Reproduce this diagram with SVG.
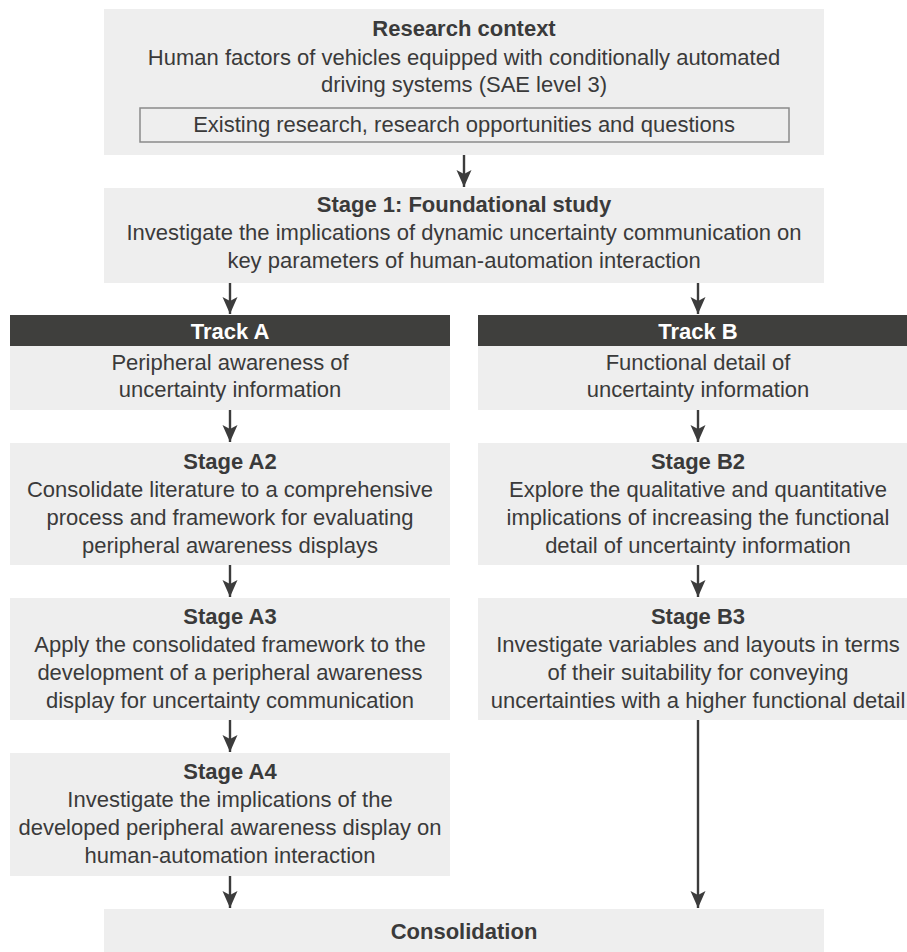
<svg xmlns="http://www.w3.org/2000/svg" width="907" height="952" viewBox="0 0 907 952">
  <style>
    .box { fill: #eeeeee; }
    .head { fill: #3f3f3d; }
    .inner { fill: #eeeeee; stroke: #8a8a8a; stroke-width: 1.5; }
    text { font-family: "Liberation Sans", Arial, sans-serif; font-size: 22px; fill: #3a3a3a; text-anchor: middle; }
    .t { font-weight: bold; }
    .w { font-weight: bold; fill: #ffffff; }
    .link { stroke: #3c3c3c; stroke-width: 2.4; fill: none; marker-end: url(#arrow); }
  </style>
  <defs>
    <marker id="arrow" markerUnits="userSpaceOnUse" markerWidth="20" markerHeight="18" viewBox="-18 -9 20 18" refX="0" refY="0" orient="auto">
      <path d="M0,0 L-17,-7.5 L-13,0 L-17,7.5 Z" fill="#3c3c3c"/>
    </marker>
  </defs>

  <g id="research-context">
    <rect class="box" x="104" y="9" width="720" height="146"/>
    <text class="t" x="464" y="36">Research context</text>
    <text x="464" y="65">Human factors of vehicles equipped with conditionally automated</text>
    <text x="464" y="92">driving systems (SAE level 3)</text>
    <rect class="inner" x="140" y="108" width="649" height="34"/>
    <text x="464" y="132">Existing research, research opportunities and questions</text>
  </g>

  <g id="stage-1">
    <rect class="box" x="104" y="188" width="720" height="95"/>
    <text class="t" x="464" y="212">Stage 1: Foundational study</text>
    <text x="464" y="240">Investigate the implications of dynamic uncertainty communication on</text>
    <text x="464" y="268">key parameters of human-automation interaction</text>
  </g>

  <g id="track-a">
    <rect class="box" x="10" y="315" width="440" height="95"/>
    <rect class="head" x="10" y="315" width="440" height="31"/>
    <text class="w" x="230" y="339">Track A</text>
    <text x="230" y="370">Peripheral awareness of</text>
    <text x="230" y="397">uncertainty information</text>
  </g>

  <g id="track-b">
    <rect class="box" x="478" y="315" width="440" height="95"/>
    <rect class="head" x="478" y="315" width="440" height="31"/>
    <text class="w" x="698" y="339">Track B</text>
    <text x="698" y="370">Functional detail of</text>
    <text x="698" y="397">uncertainty information</text>
  </g>

  <g id="stage-a2">
    <rect class="box" x="10" y="443" width="440" height="122"/>
    <text class="t" x="230" y="469">Stage A2</text>
    <text x="230" y="497">Consolidate literature to a comprehensive</text>
    <text x="230" y="525">process and framework for evaluating</text>
    <text x="230" y="553">peripheral awareness displays</text>
  </g>

  <g id="stage-b2">
    <rect class="box" x="478" y="443" width="440" height="122"/>
    <text class="t" x="698" y="469">Stage B2</text>
    <text x="698" y="497">Explore the qualitative and quantitative</text>
    <text x="698" y="525">implications of increasing the functional</text>
    <text x="698" y="553">detail of uncertainty information</text>
  </g>

  <g id="stage-a3">
    <rect class="box" x="10" y="598" width="440" height="122"/>
    <text class="t" x="230" y="624">Stage A3</text>
    <text x="230" y="652">Apply the consolidated framework to the</text>
    <text x="230" y="680">development of a peripheral awareness</text>
    <text x="230" y="708">display for uncertainty communication</text>
  </g>

  <g id="stage-b3">
    <rect class="box" x="478" y="598" width="440" height="122"/>
    <text class="t" x="698" y="624">Stage B3</text>
    <text x="698" y="652">Investigate variables and layouts in terms</text>
    <text x="698" y="680">of their suitability for conveying</text>
    <text x="698" y="708">uncertainties with a higher functional detail</text>
  </g>

  <g id="stage-a4">
    <rect class="box" x="10" y="753" width="440" height="123"/>
    <text class="t" x="230" y="779">Stage A4</text>
    <text x="230" y="807">Investigate the implications of the</text>
    <text x="230" y="835">developed peripheral awareness display on</text>
    <text x="230" y="863">human-automation interaction</text>
  </g>

  <g id="consolidation">
    <rect class="box" x="104" y="909" width="720" height="60"/>
    <text class="t" x="464" y="939">Consolidation</text>
  </g>

  <g id="connectors">
    <line class="link" x1="464" y1="155" x2="464" y2="187"/>
    <line class="link" x1="230" y1="283" x2="230" y2="314"/>
    <line class="link" x1="698" y1="283" x2="698" y2="314"/>
    <line class="link" x1="230" y1="410" x2="230" y2="442"/>
    <line class="link" x1="698" y1="410" x2="698" y2="442"/>
    <line class="link" x1="230" y1="565" x2="230" y2="597"/>
    <line class="link" x1="698" y1="565" x2="698" y2="597"/>
    <line class="link" x1="230" y1="720" x2="230" y2="752"/>
    <line class="link" x1="230" y1="876" x2="230" y2="908"/>
    <line class="link" x1="698" y1="720" x2="698" y2="908"/>
  </g>
</svg>
